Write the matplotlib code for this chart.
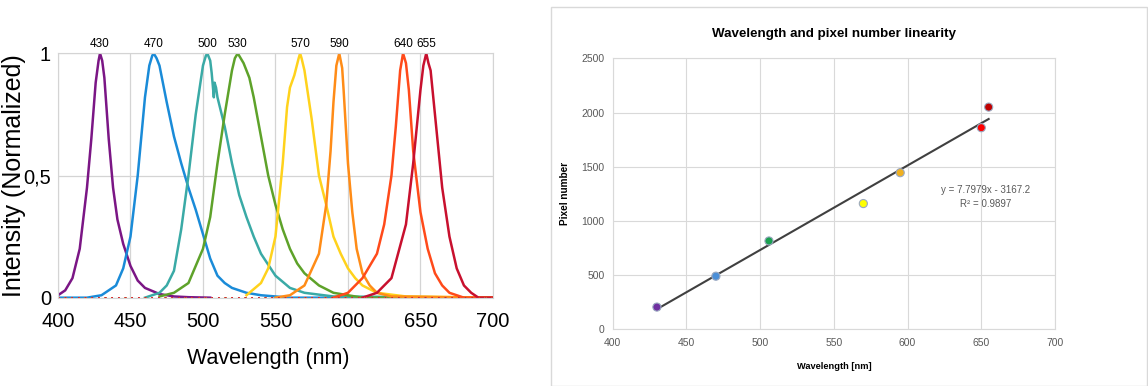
import numpy as np
import matplotlib
matplotlib.use('Agg')
import matplotlib.pyplot as plt
from matplotlib.patches import Rectangle

plt.rcParams['font.family'] = ['Liberation Sans', 'DejaVu Sans']

# ---- left panel: normalized LED spectra ----
peak_labels = ['430', '470', '500', '530', '570', '590', '640', '655']
peak_pos = [429, 466, 503, 524, 567, 594, 638, 654]
led_colors = ['#7b1685', '#1a8bd8', '#3aaaa6', '#5ea22a', '#ffd21c', '#ff8c17', '#ff4a1a', '#c8102e']

wl_430 = [400, 405, 410, 415, 420, 423, 426, 428, 429, 430.5, 432, 435, 438, 441, 445, 450, 455, 460, 470, 480, 490, 505]
in_430 = [0.01, 0.03, 0.08, 0.2, 0.45, 0.65, 0.88, 0.97, 1.0, 0.97, 0.9, 0.65, 0.45, 0.32, 0.22, 0.13, 0.07, 0.04, 0.015, 0.005, 0.002, 0.0]

wl_470 = [400, 420, 430, 440, 445, 450, 455, 460, 463, 465, 466, 468, 470, 475, 480, 485, 490, 495, 500, 505, 510, 515, 520, 530, 540, 560, 700]
in_470 = [0.0, 0.0, 0.01, 0.05, 0.12, 0.25, 0.5, 0.82, 0.95, 0.99, 1.0, 0.98, 0.95, 0.8, 0.66, 0.55, 0.45, 0.36, 0.26, 0.16, 0.09, 0.06, 0.04, 0.02, 0.01, 0.0, 0.0]

wl_500 = [460, 470, 475, 480, 485, 490, 495, 500, 502, 503, 505, 506, 507.5, 508, 509, 510, 515, 520, 525, 530, 535, 540, 550, 560, 570, 590, 700]
in_500 = [0.0, 0.02, 0.05, 0.11, 0.28, 0.5, 0.75, 0.95, 0.99, 1.0, 0.97, 0.92, 0.82, 0.88, 0.86, 0.82, 0.7, 0.55, 0.42, 0.33, 0.25, 0.18, 0.09, 0.04, 0.02, 0.005, 0.0]

wl_530 = [470, 480, 490, 500, 505, 510, 515, 520, 522, 524, 526, 528, 532, 535, 540, 545, 550, 555, 560, 565, 570, 580, 590, 600, 610, 700]
in_530 = [0.005, 0.02, 0.06, 0.2, 0.33, 0.55, 0.75, 0.93, 0.98, 1.0, 0.98, 0.96, 0.9, 0.82, 0.66, 0.5, 0.38, 0.28, 0.2, 0.14, 0.1, 0.05, 0.02, 0.01, 0.0, 0.0]

wl_570 = [530, 540, 545, 550, 555, 558, 560, 563, 566, 567, 568, 570, 575, 580, 585, 590, 595, 600, 605, 610, 620, 640, 700]
in_570 = [0.01, 0.06, 0.12, 0.25, 0.55, 0.78, 0.86, 0.91, 0.98, 1.0, 0.98, 0.93, 0.73, 0.5, 0.38, 0.25, 0.18, 0.12, 0.08, 0.05, 0.02, 0.005, 0.0]

wl_590 = [550, 560, 570, 580, 585, 588, 590, 592, 594, 596, 597, 600, 603, 606, 610, 615, 620, 630, 700]
in_590 = [0.0, 0.01, 0.05, 0.18, 0.38, 0.6, 0.8, 0.95, 1.0, 0.94, 0.85, 0.55, 0.35, 0.2, 0.1, 0.05, 0.02, 0.005, 0.0]

wl_640 = [590, 600, 610, 620, 625, 630, 633, 636, 638, 640, 642, 645, 650, 655, 660, 665, 670, 680, 700]
in_640 = [0.0, 0.02, 0.08, 0.18, 0.3, 0.5, 0.7, 0.93, 1.0, 0.96, 0.85, 0.6, 0.35, 0.2, 0.1, 0.05, 0.02, 0.0, 0.0]

wl_655 = [610, 620, 630, 640, 645, 650, 652, 654, 655.5, 657, 660, 665, 670, 675, 680, 685, 690, 700]
in_655 = [0.0, 0.02, 0.08, 0.3, 0.55, 0.85, 0.95, 1.0, 0.96, 0.93, 0.75, 0.45, 0.25, 0.12, 0.05, 0.02, 0.0, 0.0]

spectra_wl = [wl_430, wl_470, wl_500, wl_530, wl_570, wl_590, wl_640, wl_655]
spectra_in = [in_430, in_470, in_500, in_530, in_570, in_590, in_640, in_655]

# ---- right panel: pixel number vs wavelength ----
cal_wl = [430, 470, 506, 570, 595, 650, 655]
cal_px = [205, 490, 815, 1160, 1445, 1860, 2050]
cal_colors = ['#7030a0', '#4a8fd8', '#1aa050', '#ffff00', '#f0b020', '#ff0000', '#c00000']
slope = 7.7979
intercept = -3167.2
r2 = 0.9897

fig = plt.figure(figsize=(11.48, 3.86), dpi=100)

ax1 = fig.add_axes([0.0505, 0.2288, 0.3789, 0.633])
for wl, it, c in zip(spectra_wl, spectra_in, led_colors):
    ax1.plot(wl, it, color=c, lw=1.8)
# zero-level baseline of the noisy data
for c in led_colors:
    ax1.plot([400, 700], [0, 0], color=c, lw=1.2, ls=(0, (1, 3)))
ax1.set_xlim(400, 700)
ax1.set_ylim(0, 1)
ax1.set_xticks([400, 450, 500, 550, 600, 650, 700])
ax1.set_yticks([0, 0.5, 1])
ax1.set_yticklabels(['0', '0,5', '1'])
ax1.tick_params(labelsize=14.5, length=0)
ax1.tick_params(axis='x', pad=10)
ax1.tick_params(axis='y', pad=5)
ax1.grid(True, color='#d4d4d4', lw=0.9)
for s in ax1.spines.values():
    s.set_color('#d4d4d4')
ax1.set_xlabel('Wavelength (nm)', fontsize=15.5)
ax1.set_ylabel('Intensity (Normalized)', fontsize=18)
ax1.xaxis.set_label_coords(0.483, -0.205)
ax1.yaxis.set_label_coords(-0.074, 0.5)
ax1.set_axisbelow(True)
for lab, x in zip(peak_labels, peak_pos):
    ax1.text(x, 1.015, lab, ha='center', va='bottom', fontsize=8.5)

# framed chart on the right
fig.patches.append(Rectangle((0.48, 0.0), 0.519, 0.982, transform=fig.transFigure,
                             fill=False, edgecolor='#d9d9d9', lw=1))

ax2 = fig.add_axes([0.5337, 0.1469, 0.3853, 0.702])
ax2.plot([cal_wl[0], cal_wl[-1]],
         [slope * cal_wl[0] + intercept, slope * cal_wl[-1] + intercept],
         color='#404040', lw=1.5, zorder=2)
ax2.scatter(cal_wl, cal_px, c=cal_colors, s=34, edgecolors='#9aa8c0', linewidths=0.8, zorder=3)
ax2.set_xlim(400, 700)
ax2.set_ylim(0, 2500)
ax2.set_xticks(range(400, 701, 50))
ax2.set_yticks(range(0, 2501, 500))
ax2.tick_params(labelsize=7.5, colors='#595959', length=0, pad=6)
ax2.grid(True, color='#d9d9d9', lw=0.8)
ax2.set_axisbelow(True)
for s in ax2.spines.values():
    s.set_color('#d9d9d9')
ax2.set_title('Wavelength and pixel number linearity', fontsize=9.6, fontweight='bold', pad=15)
ax2.set_xlabel('Wavelength [nm]', fontsize=6.7, fontweight='bold', labelpad=10)
ax2.set_ylabel('Pixel number', fontsize=7.2, fontweight='bold', labelpad=8)
ax2.text(653, 1220, 'y = 7.7979x - 3167.2\nR² = %.4f' % r2, ha='center', va='center',
         fontsize=7, color='#595959', linespacing=1.6)

fig.savefig('out.png', dpi=100)
